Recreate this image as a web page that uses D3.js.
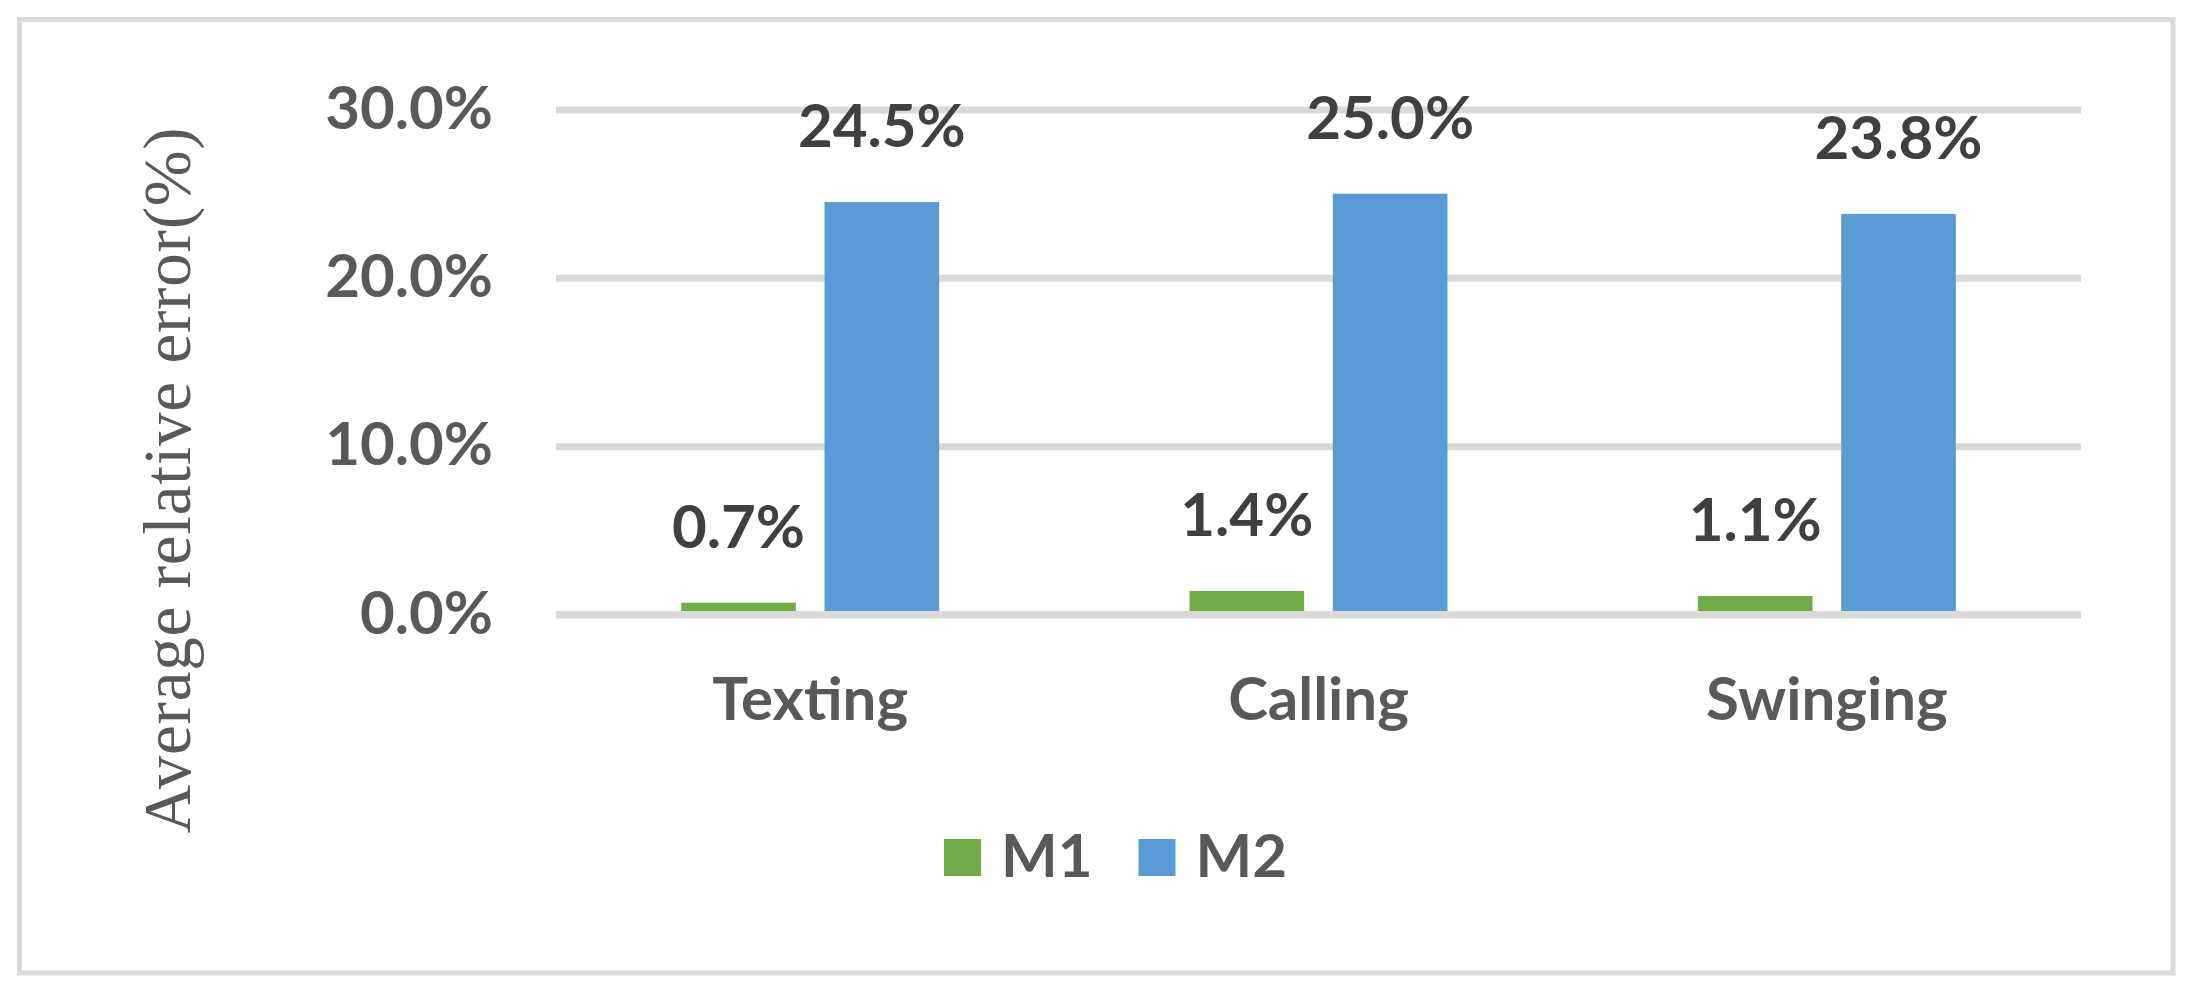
<!DOCTYPE html>
<html><head><meta charset="utf-8">
<script src="https://cdn.jsdelivr.net/npm/d3@7"></script>
<style>body{margin:0;background:#fff}</style>
</head><body>
<svg id="chart" width="2194" height="999"></svg>
<script>
const categories = ["Texting", "Calling", "Swinging"];
const seriesNames = ["M1", "M2"];
const m1Values = [0.007, 0.014, 0.011];
const m2Values = [0.245, 0.250, 0.238];
const yTicks = [0, 0.1, 0.2, 0.3];
const yTitle = "Average relative error(%)";
const seriesColors = ["#70AD47", "#5B9BD5"];

const seriesValues = [m1Values, m2Values];
const rows = categories.map((c, i) => ({cat: c, vals: seriesNames.map((s, j) => ({s, j, v: seriesValues[j][i]}))}));

const W = 2194, H = 999;
const svg = d3.select("#chart");
svg.append("rect").attr("width", W).attr("height", H).attr("fill", "#fff");
svg.append("rect").attr("x", 19.5).attr("y", 19.5).attr("width", 2153.5).attr("height", 953.5)
  .attr("fill", "none").attr("stroke", "#d9d9d9").attr("stroke-width", 5);

const plotL = 556, plotR = 2081;
const x0 = d3.scaleBand().domain(categories).range([plotL, plotR]).padding(0);
const groupW = 258;
const x1 = d3.scaleBand().domain(seriesNames)
  .range([(x0.bandwidth() - groupW) / 2, (x0.bandwidth() + groupW) / 2]).paddingInner(0.2);
const y = d3.scaleLinear().domain([0, 0.3]).range([614.5, 109.5]);
const color = d3.scaleOrdinal().domain(seriesNames).range(seriesColors);
const fmt = d3.format(".1%");
const calibri = "Lato, Carlito, Calibri, sans-serif";

// gridlines
const grid = svg.append("g").attr("transform", `translate(${plotL},0)`)
  .call(d3.axisLeft(y).tickValues(yTicks).tickSize(-(plotR - plotL)).tickFormat(""));
grid.select(".domain").remove();
grid.selectAll("line").attr("stroke", "#d9d9d9").attr("stroke-width", 7);

// y tick labels
const yAx = svg.append("g").attr("transform", "translate(493,0)")
  .call(d3.axisLeft(y).tickValues(yTicks).tickSize(0).tickPadding(0).tickFormat(fmt));
yAx.select(".domain").remove();
yAx.selectAll("text").attr("font-family", calibri).attr("font-weight", "bold")
  .attr("font-size", 60).attr("fill", "#595959").attr("dy", 18.5).attr("text-anchor", "end");

// bars
const groups = svg.append("g").selectAll("g").data(rows).join("g")
  .attr("transform", d => `translate(${x0(d.cat)},0)`);
groups.selectAll("rect").data(d => d.vals).join("rect")
  .attr("x", d => x1(d.s)).attr("width", x1.bandwidth())
  .attr("y", d => y(d.v)).attr("height", d => y(0) - y(d.v))
  .attr("fill", d => color(d.s));

// baseline on top
svg.append("line").attr("x1", plotL).attr("x2", plotR).attr("y1", y(0)).attr("y2", y(0))
  .attr("stroke", "#d9d9d9").attr("stroke-width", 7);

// data labels
groups.selectAll("text.lbl").data(d => d.vals).join("text").attr("class", "lbl")
  .attr("x", d => x1(d.s) + x1.bandwidth() / 2).attr("y", d => y(d.v) - 55)
  .attr("text-anchor", "middle").attr("font-family", calibri).attr("font-weight", "bold")
  .attr("font-size", 60).attr("fill", "#404040").text(d => fmt(d.v));

// category axis
const xAx = svg.append("g").attr("transform", `translate(0,${y(0)})`)
  .call(d3.axisBottom(x0).tickSize(0).tickPadding(0));
xAx.select(".domain").remove();
xAx.selectAll("text").attr("y", 105.5).attr("dy", 0).attr("font-family", calibri)
  .attr("font-weight", "bold").attr("font-size", 60).attr("fill", "#595959");

// y title
svg.append("text").attr("transform", "translate(190,480) rotate(-90)")
  .attr("text-anchor", "middle").attr("font-family", "'Liberation Serif', 'Times New Roman', serif")
  .attr("font-size", 67).attr("letter-spacing", 0.8).attr("fill", "#595959").text(yTitle);

// legend
const leg = svg.append("g").attr("transform", "translate(944,0)");
let lx = 0;
seriesNames.forEach(s => {
  const g = leg.append("g").attr("transform", `translate(${lx},0)`);
  g.append("rect").attr("x", 0).attr("y", 839).attr("width", 37).attr("height", 37).attr("fill", color(s));
  const t = g.append("text").attr("x", 57).attr("y", 877).attr("font-family", calibri)
    .attr("font-weight", "bold").attr("font-size", 60).attr("fill", "#595959").text(s);
  lx += 57 + t.node().getComputedTextLength() + 46;
});
</script>
</body></html>
